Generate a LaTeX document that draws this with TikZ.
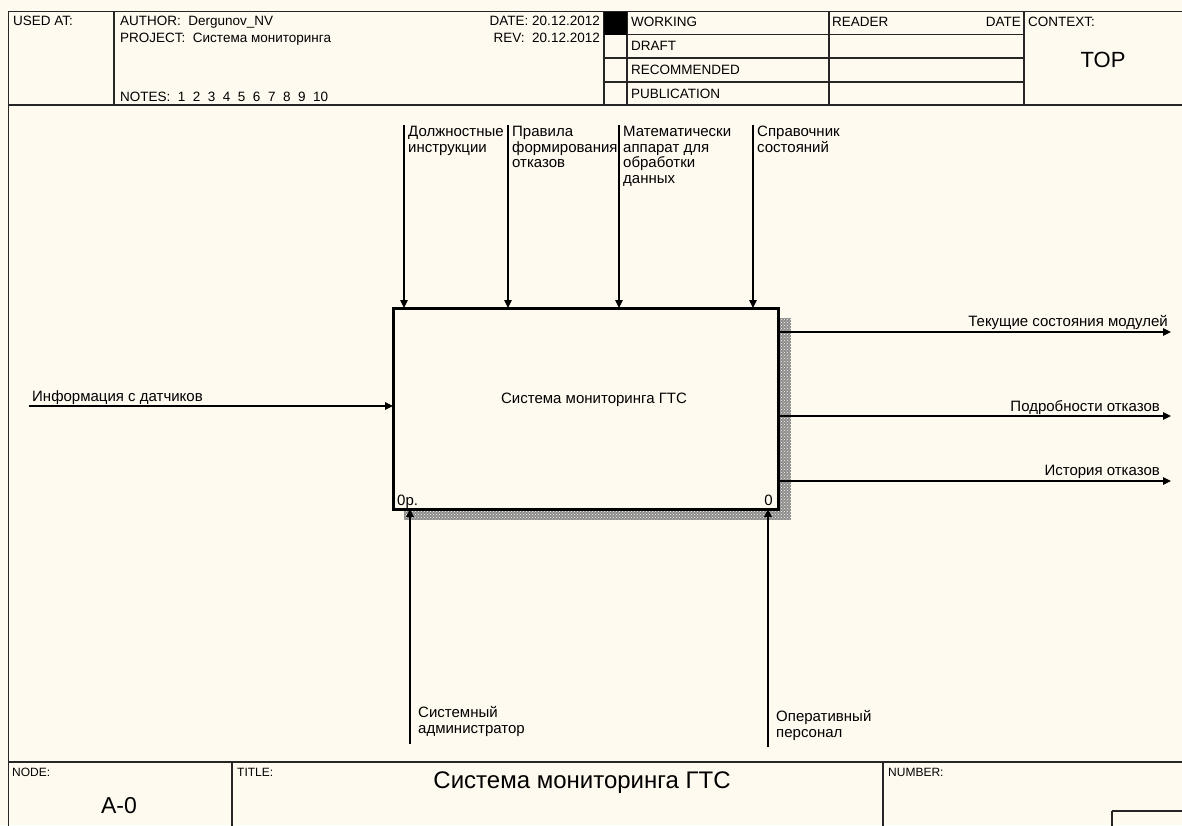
\documentclass[tikz,border=0pt]{standalone}
\usepackage{fontspec}
\setmainfont{Liberation Sans}
\usetikzlibrary{arrows.meta,patterns}
\definecolor{bg}{HTML}{FFFAF0}
\begin{document}
\begin{tikzpicture}[x=1pt,y=-1pt,
  frameline/.style={line width=1.5pt, draw=black!85},
  hdr/.style={font=\fontsize{13.5}{15}\selectfont, inner sep=0pt},
  small/.style={font=\fontsize{12}{14}\selectfont, inner sep=0pt},
  lbl/.style={font=\fontsize{15}{15.5}\selectfont, inner sep=0pt, align=left},
  big/.style={font=\fontsize{23}{26}\selectfont, inner sep=0pt},
  arr/.style={line width=1.2pt, -{Triangle[length=8pt,width=7.5pt]}},
  mainbox/.style={draw, line width=3pt, minimum width=385pt, minimum height=201pt, outer sep=0pt, inner sep=0pt, fill=bg},
  shadow/.style={fill=black!45, postaction={pattern=crosshatch dots, pattern color=bg}}
]
\useasboundingbox (0,0) rectangle (1182,825);
\fill[bg] (0,0) rectangle (1182,825);

% outer frame
\draw[frameline] (1190,11.5) -- (8.5,11.5) -- (8.5,830);
\draw[frameline] (8.5,105) -- (1190,105);
% header dividers
\draw[frameline] (114,11.5) -- (114,105);
\draw[frameline] (604,11.5) -- (604,105);
\draw[frameline] (627,11.5) -- (627,105);
\draw[frameline] (829,11.5) -- (829,105);
\draw[frameline] (1024,11.5) -- (1024,105);
\draw[frameline] (604,34.5) -- (1024,34.5);
\draw[frameline] (604,58) -- (1024,58);
\draw[frameline] (604,82) -- (1024,82);
\fill[black] (604,11.5) rectangle (627,34.5);

% header texts
\node[hdr, anchor=base west] (usedat) at (13,25) {USED AT:};
\node[hdr, anchor=base west] (author) at (120,25) {AUTHOR:\ \ Dergunov\_NV};
\node[hdr, anchor=base west] (project) at (120,42) {PROJECT:\ \ Система мониторинга};
\node[hdr, anchor=base west] (notes) at (120,101) {NOTES:\ \ 1\ \ 2\ \ 3\ \ 4\ \ 5\ \ 6\ \ 7\ \ 8\ \ 9\ \ 10};
\node[hdr, anchor=base east] (date) at (600,25) {DATE: 20.12.2012};
\node[hdr, anchor=base east] (rev) at (600,42) {REV:\ \ 20.12.2012};
\node[hdr, anchor=base west] (working) at (631,26) {WORKING};
\node[hdr, anchor=base west] (draft) at (631,50) {DRAFT};
\node[hdr, anchor=base west] (recommended) at (631,74) {RECOMMENDED};
\node[hdr, anchor=base west] (publication) at (631,98) {PUBLICATION};
\node[hdr, anchor=base west] (reader) at (832,26) {READER};
\node[hdr, anchor=base east] (rdate) at (1021,26) {DATE};
\node[hdr, anchor=base west] (context) at (1028,26) {CONTEXT:};
\node[big, font=\fontsize{22}{24}\selectfont] (top) at (1103,60) {TOP};

% shadow of main box
\path[shadow] (779,318) rectangle (791,520);
\path[shadow] (404,510) rectangle (791,520);

% main box
\node[mainbox] (box) at (585.5,408.5) {};
\node[lbl] (boxtitle) at (594,400) {Система мониторинга ГТС};
\node[lbl, anchor=base west] (boxnum) at (397,505) {0р.};
\node[lbl, anchor=base east] (boxnum2) at (773,505) {0};

% controls
\coordinate (c1) at (404,125);
\coordinate (c2) at (508,125);
\coordinate (c3) at (619,125);
\coordinate (c4) at (753,125);
\draw[arr] (c1) -- (c1 |- box.north);
\draw[arr] (c2) -- (c2 |- box.north);
\draw[arr] (c3) -- (c3 |- box.north);
\draw[arr] (c4) -- (c4 |- box.north);
\node[lbl, anchor=north west] (lc1) at (408,126) {Должностные\\инструкции};
\node[lbl, anchor=north west] (lc2) at (512,126) {Правила\\формирования\\отказов};
\node[lbl, anchor=north west] (lc3) at (623,126) {Математически\\аппарат для\\обработки\\данных};
\node[lbl, anchor=north west] (lc4) at (757,126) {Справочник\\состояний};

% input
\coordinate (i1) at (29,406);
\draw[arr] (i1) -- (i1 -| box.west);
\node[lbl, anchor=base west] (li1) at (32,401) {Информация с датчиков};

% outputs
\coordinate (o1) at (1171,332);
\coordinate (o2) at (1171,416);
\coordinate (o3) at (1171,481);
\draw[arr] (o1 -| box.east) -- (o1);
\draw[arr] (o2 -| box.east) -- (o2);
\draw[arr] (o3 -| box.east) -- (o3);
\node[lbl, anchor=base east] (lo1) at (1168,326) {Текущие состояния модулей};
\node[lbl, anchor=base east] (lo2) at (1160,411) {Подробности отказов};
\node[lbl, anchor=base east] (lo3) at (1160,475) {История отказов};

% mechanisms
\coordinate (m1) at (410,744);
\coordinate (m2) at (768,747);
\draw[arr] (m1) -- (m1 |- box.south);
\draw[arr] (m2) -- (m2 |- box.south);
\node[lbl, anchor=base west] (lm1) at (418,733) {Системный\\администратор};
\node[lbl, anchor=base west] (lm2) at (776,737) {Оперативный\\персонал};

% footer
\draw[frameline] (8.5,762) -- (1190,762);
\draw[frameline] (232,762) -- (232,830);
\draw[frameline] (883,762) -- (883,830);
\draw[frameline] (1112,811) -- (1190,811);
\draw[frameline] (1112,811) -- (1112,830);
\node[small, anchor=base west] (node) at (12,776) {NODE:};
\node[big] (a0) at (119,806) {A-0};
\node[small, anchor=base west] (title) at (237,776) {TITLE:};
\node[big, font=\fontsize{24}{26}\selectfont] (ftitle) at (582,783) {Система мониторинга ГТС};
\node[small, anchor=base west] (number) at (888,776) {NUMBER:};
\end{tikzpicture}
\end{document}
